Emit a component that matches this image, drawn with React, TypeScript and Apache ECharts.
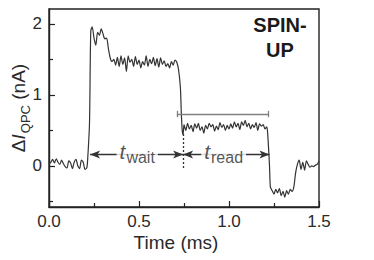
import React, { useEffect, useRef } from "react";
import * as echarts from "echarts";

// Trace: time (ms) and current change (nA)
const timeMs: number[] = [
  0.0, 0.01, 0.02, 0.03, 0.04, 0.05, 0.06, 0.07, 0.08, 0.09, 0.1, 0.11, 0.12, 0.13, 0.14, 0.15, 0.16, 0.17, 0.18, 0.19, 0.2, 0.21, 0.215,
  0.225, 0.232, 0.24, 0.25, 0.26, 0.27, 0.28, 0.29, 0.3, 0.31, 0.32, 0.33, 0.34, 0.35,
  0.36, 0.37, 0.38, 0.39, 0.4, 0.41, 0.42, 0.43, 0.44, 0.45, 0.46, 0.47, 0.48, 0.49, 0.5, 0.51, 0.52, 0.53, 0.54, 0.55,
  0.56, 0.57, 0.58, 0.59, 0.6, 0.61, 0.62, 0.63, 0.64, 0.65, 0.66, 0.67, 0.68, 0.69, 0.7, 0.71, 0.72, 0.73, 0.735, 0.74, 0.745,
  0.75, 0.76, 0.77, 0.78, 0.79, 0.8, 0.81, 0.82, 0.83, 0.84, 0.85, 0.86, 0.87, 0.88, 0.89, 0.9, 0.91, 0.92, 0.93, 0.94, 0.95,
  0.96, 0.97, 0.98, 0.99, 1.0, 1.01, 1.02, 1.03, 1.04, 1.05, 1.06, 1.07, 1.08, 1.09, 1.1, 1.11, 1.12, 1.13, 1.14, 1.15,
  1.16, 1.17, 1.18, 1.19, 1.2, 1.21, 1.215, 1.225, 1.23,
  1.24, 1.25, 1.26, 1.27, 1.28, 1.29, 1.3, 1.31, 1.32, 1.33, 1.34, 1.35, 1.36, 1.37, 1.38, 1.39, 1.4,
  1.41, 1.42, 1.43, 1.44, 1.45, 1.46, 1.47, 1.48, 1.49, 1.5,
];
const currentNA: number[] = [
  0.03, 0.05, 0.09, 0.04, 0.1, 0.05, 0.02, 0.08, 0.03, -0.01, -0.03, 0.07, 0.04, -0.04, 0.05, 0.09, 0.0, -0.04, 0.08, 0.05, -0.05, -0.03, 0.1,
  0.6, 1.9, 1.96, 1.8, 1.7, 1.88, 1.84, 1.93, 1.86, 1.79, 1.8, 1.65, 1.52, 1.47,
  1.5, 1.42, 1.53, 1.4, 1.55, 1.43, 1.52, 1.33, 1.55, 1.46, 1.5, 1.4, 1.54, 1.43, 1.49, 1.38, 1.47, 1.42, 1.55, 1.4,
  1.5, 1.44, 1.53, 1.41, 1.51, 1.39, 1.52, 1.43, 1.48, 1.4, 1.44, 1.38, 1.47, 1.42, 1.49, 1.46, 1.35, 1.1, 0.75, 0.5, 0.44,
  0.58, 0.5, 0.6, 0.52, 0.57, 0.48, 0.59, 0.53, 0.6, 0.5, 0.55, 0.46, 0.57, 0.52, 0.6, 0.55, 0.58, 0.49, 0.56, 0.51, 0.61,
  0.54, 0.58, 0.5, 0.57, 0.52, 0.59, 0.53, 0.62, 0.55, 0.6, 0.51, 0.62, 0.57, 0.64, 0.55, 0.6, 0.52, 0.58, 0.54, 0.61,
  0.5, 0.59, 0.56, 0.58, 0.52, 0.55, 0.45, 0.0, -0.3,
  -0.35, -0.4, -0.33, -0.38, -0.32, -0.42, -0.36, -0.44, -0.35, -0.4, -0.33, -0.36, -0.3, -0.1, 0.02, 0.08, -0.05,
  0.05, -0.06, 0.07, 0.02, -0.02, 0.0, -0.01, 0.01, 0.02, 0.07,
];

// Axis ticks
const xTicks: number[] = [0, 0.5, 1.0, 1.5];
const yMajorTicks: number[] = [0, 1, 2];
const yMinorTicks: number[] = [-0.5, 0.5, 1.5];

// Annotations (data coordinates)
const arrowLevel = 0.16;
const waitStart = 0.228;
const pulseEdge = 0.745;
const readEnd = 1.225;
const readBarLevel = 0.73;
const readBarStart = 0.71;
const readBarEnd = 1.22;
const dottedBottom = -0.03;
const dottedTop = 0.46;
const waitLabelX = 0.49;
const readLabelX = 0.97;

const FONT = "Liberation Sans, Arial, Helvetica, sans-serif";

export default function App() {
  const ref = useRef<HTMLDivElement>(null);

  useEffect(() => {
    if (!ref.current) return;
    const chart = echarts.init(ref.current, null, { renderer: "svg" });
    const trace = timeMs.map((t, i) => [t, currentNA[i]]);
    const dark = "#2a2a2a";

    const capH = 0.045;

    chart.setOption({
      animation: false,
      backgroundColor: "#ffffff",
      textStyle: { fontFamily: FONT },
      grid: {
        left: 49,
        right: 55,
        top: 9,
        bottom: 53,
        show: true,
        borderColor: "#222",
        borderWidth: 1.4,
        backgroundColor: "transparent",
        containLabel: false,
        outerBoundsMode: "none",
      },
      xAxis: {
        type: "value",
        min: 0,
        max: 1.5,
        interval: 0.5,
        name: "Time (ms)",
        nameLocation: "middle",
        nameGap: 26,
        nameMoveOverlap: false,
        nameTextStyle: { fontSize: 19, color: dark, fontFamily: FONT, padding: [0, 16, 0, 0] },
        axisLine: { show: true, onZero: false, lineStyle: { color: "#222", width: 1.4 } },
        axisTick: { show: true, inside: true, length: 6, lineStyle: { color: "#222", width: 1.2 } },
        minorTick: { show: true, splitNumber: 2, length: 4, lineStyle: { color: "#222", width: 1.2 } },
        splitLine: { show: false },
        axisLabel: {
          fontSize: 17,
          color: dark,
          margin: 6,
          fontFamily: FONT,
          formatter: (v: number) => (xTicks.includes(v) ? v.toFixed(1) : ""),
        },
      },
      yAxis: [
        {
          type: "value",
          min: -0.58,
          max: 2.21,
          position: "left",
          name: "{n|Δ}{i|I}{s|QPC}{n| (nA)}",
          nameLocation: "middle",
          nameRotate: 90,
          nameGap: 17,
          nameMoveOverlap: false,
          nameTextStyle: {
            color: dark,
            fontFamily: FONT,
            rich: {
              n: { fontSize: 19, color: dark, fontFamily: FONT, verticalAlign: "bottom", lineHeight: 21, padding: [0, 0, 4, 0] },
              i: { fontSize: 19, fontStyle: "italic", color: dark, fontFamily: FONT, verticalAlign: "bottom", lineHeight: 21, padding: [0, 1, 4, 0] },
              s: { fontSize: 13, color: dark, fontFamily: FONT, verticalAlign: "bottom", lineHeight: 15 },
            },
          },
          axisLine: { show: true, onZero: false, lineStyle: { color: "#222", width: 1.4 } },
          axisTick: { show: true, inside: true, length: 6, customValues: yMajorTicks, lineStyle: { color: "#222", width: 1.2 } },
          splitLine: { show: false },
          axisLabel: {
            fontSize: 17,
            color: dark,
            margin: 7,
            fontFamily: FONT,
            customValues: yMajorTicks,
            formatter: (v: number) => String(Math.round(v)),
          },
        },
        {
          type: "value",
          min: -0.58,
          max: 2.21,
          position: "left",
          offset: 0,
          axisLine: { show: false, onZero: false },
          axisTick: { show: true, inside: true, length: 4, customValues: yMinorTicks, lineStyle: { color: "#222", width: 1.2 } },
          axisLabel: { show: false },
          splitLine: { show: false },
        },
      ],
      series: [
        {
          type: "line",
          data: trace,
          yAxisIndex: 0,
          showSymbol: false,
          smooth: 0.25,
          lineStyle: { color: "#333", width: 1.2 },
          silent: true,
          markLine: {
            silent: true,
            symbol: ["none", "none"],
            label: { show: false },
            data: [
              [
                { coord: [waitStart, arrowLevel], symbol: "arrow", symbolSize: [6, 10], lineStyle: { color: "#333", width: 1.4, type: "solid" } },
                { coord: [pulseEdge, arrowLevel], symbol: "arrow", symbolSize: [6, 10] },
              ],
              [
                { coord: [pulseEdge, arrowLevel], symbol: "arrow", symbolSize: [6, 10], lineStyle: { color: "#333", width: 1.4, type: "solid" } },
                { coord: [readEnd, arrowLevel], symbol: "arrow", symbolSize: [6, 10] },
              ],
              [
                { coord: [pulseEdge, dottedBottom], symbol: "none", lineStyle: { color: "#333", width: 1.3, type: [2, 2] } },
                { coord: [pulseEdge, dottedTop], symbol: "none" },
              ],
              [
                { coord: [readBarStart, readBarLevel], symbol: "none", lineStyle: { color: "#808080", width: 1.3, type: "solid" } },
                { coord: [readBarEnd, readBarLevel], symbol: "none" },
              ],
              [
                { coord: [readBarStart, readBarLevel - capH], symbol: "none", lineStyle: { color: "#808080", width: 1.3, type: "solid" } },
                { coord: [readBarStart, readBarLevel + capH], symbol: "none" },
              ],
              [
                { coord: [readBarEnd, readBarLevel - capH], symbol: "none", lineStyle: { color: "#808080", width: 1.3, type: "solid" } },
                { coord: [readBarEnd, readBarLevel + capH], symbol: "none" },
              ],
            ],
          },
        },
        {
          type: "scatter",
          yAxisIndex: 0,
          symbolSize: 0,
          silent: true,
          z: 5,
          data: [
            { value: [waitLabelX, arrowLevel], name: "wait" },
            { value: [readLabelX, arrowLevel], name: "read" },
          ],
          label: {
            show: true,
            position: "inside",
            backgroundColor: "#ffffff",
            padding: [0, 3, 0, 3],
            formatter: (p: any) => `{t|t}{s|${p.name}}`,
            rich: {
              t: { fontSize: 21, fontStyle: "italic", color: dark, fontFamily: FONT, verticalAlign: "bottom", lineHeight: 22, padding: [0, 1, 3, 0] },
              s: { fontSize: 16, color: dark, fontFamily: FONT, verticalAlign: "bottom", lineHeight: 16 },
            },
          },
        },
      ],
      graphic: [
        {
          type: "text",
          x: 280,
          y: 12,
          style: {
            text: "SPIN-\nUP",
            fontSize: 20,
            fontWeight: "bold",
            fontFamily: FONT,
            fill: "#1a1a1a",
            lineHeight: 25,
            align: "center",
            verticalAlign: "top",
          },
        },
      ],
    });

    return () => chart.dispose();
  }, []);

  return (
    <div
      ref={ref}
      style={{ position: "fixed", left: 0, top: 0, width: 374, height: 260, background: "#fff" }}
    />
  );
}
